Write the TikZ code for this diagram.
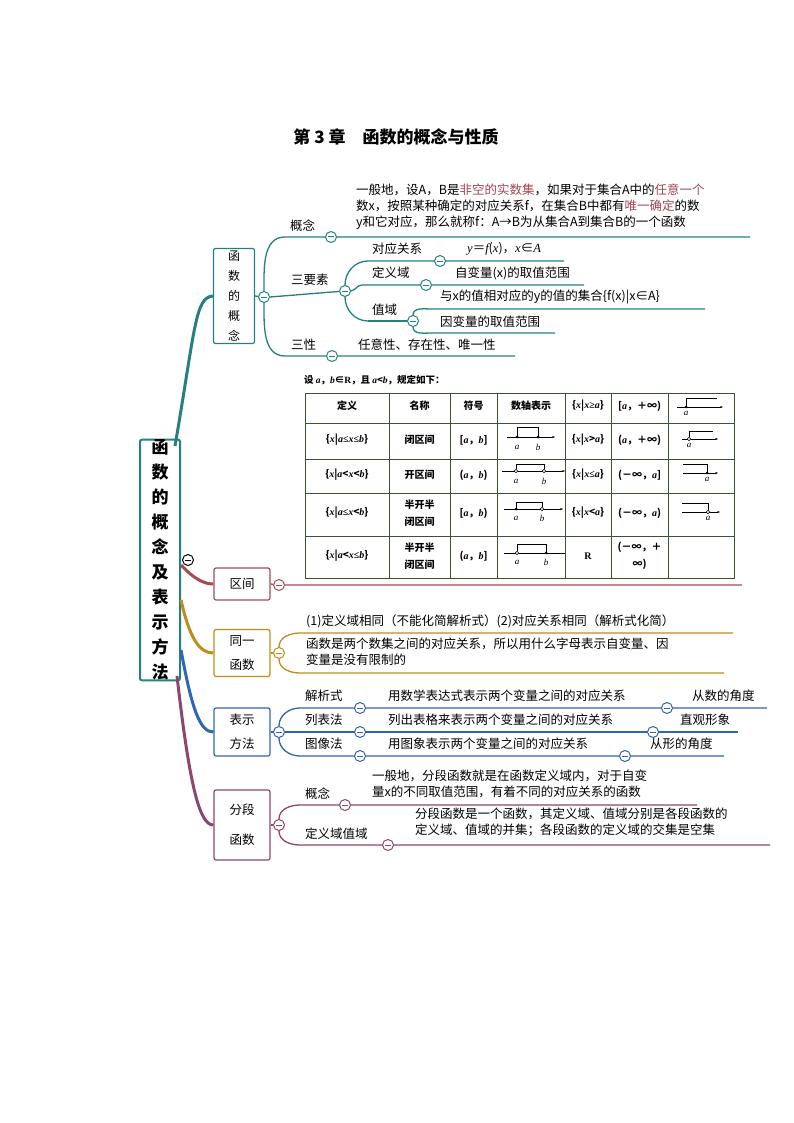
\documentclass[tikz,border=0pt]{standalone}
\usepackage{fontspec}
\setmainfont{Noto Sans CJK SC}
\newfontfamily\ser{Liberation Serif}
\usetikzlibrary{arrows.meta}
\definecolor{tl}{RGB}{38,128,128}
\definecolor{mr}{RGB}{165,75,85}
\definecolor{gd}{RGB}{190,140,30}
\definecolor{bl}{RGB}{50,100,180}
\definecolor{pu}{RGB}{140,70,110}
\definecolor{hl}{RGB}{160,70,80}
\definecolor{tg}{RGB}{60,80,50}
\newcommand{\iv}[1]{{\ser\itshape #1}}
\begin{document}
\begin{tikzpicture}[x=1pt,y=-1pt,
 mc/.style={circle,draw=#1,fill=white,line width=1pt,minimum size=11pt,inner sep=0pt,
   path picture={\draw[#1,line width=1pt] ([xshift=2.5pt]path picture bounding box.west) -- ([xshift=-2.5pt]path picture bounding box.east);}},
 br/.style={draw=#1,line width=1.3pt},
 bx/.style={draw=#1,line width=1.2pt,rounded corners=2pt,fill=white,align=center,inner sep=0pt},
 tx/.style={anchor=west,inner sep=0pt,font=\fontsize{12.5}{16}\selectfont},
 lt/.style={anchor=north west,inner sep=0pt,align=left,font=\fontsize{12.5}{16}\selectfont},
 tc/.style={inner sep=0pt,font=\bfseries\fontsize{10}{17}\selectfont,align=center},
 nl/.style={line width=0.6pt},
 dot/.style={circle,fill=black,inner sep=0pt,minimum size=3pt},
 odot/.style={circle,draw=black,fill=white,line width=0.5pt,inner sep=0pt,minimum size=3.5pt},
 al/.style={inner sep=0pt,font=\ser\itshape\fontsize{9}{9}\selectfont}]
\useasboundingbox (0,0) rectangle (794,1123);
\node[font=\bfseries\fontsize{17}{17}\selectfont] (title) at (396,137) {第 3 章\quad 函数的概念与性质};

% root
\node[bx=tl,line width=2pt,minimum width=40pt,minimum height=229pt,font=\bfseries\fontsize{17}{25}\selectfont] (root) at (160,560) {函\\数\\的\\概\\念\\及\\表\\示\\方\\法};
\node[mc=black] (rm) at (188,560) {};

% boxes
\node[bx=tl,minimum width=41pt,minimum height=95pt,font=\fontsize{12}{20}\selectfont] (b1) at (234,296) {函\\数\\的\\概\\念};
\node[bx=mr,minimum width=56pt,minimum height=32pt,font=\fontsize{12.5}{14}\selectfont] (b2) at (242,584) {区间};
\node[bx=gd,minimum width=56pt,minimum height=47pt,font=\fontsize{12.5}{24}\selectfont] (b3) at (242,653) {同一\\函数};
\node[bx=bl,minimum width=56pt,minimum height=48pt,font=\fontsize{12.5}{24}\selectfont] (b4) at (242,732) {表示\\方法};
\node[bx=pu,minimum width=56pt,minimum height=70pt,font=\fontsize{12.5}{30}\selectfont] (b5) at (242,825) {分段\\函数};

% root connectors
\draw[tl,line width=3pt] (175,446) .. controls (195,330) and (195,297) .. (b1.west);
\draw[mr,line width=3pt] (181,565) .. controls (195,580) and (205,584) .. (b2.west);
\draw[gd,line width=3pt] (181,600) .. controls (190,640) and (200,653) .. (b3.west);
\draw[bl,line width=3pt] (181,650) .. controls (192,710) and (200,732) .. (b4.west);
\draw[pu,line width=3pt] (177,676) .. controls (190,790) and (200,825) .. (b5.west);

% ---------- group 1
\node[mc=tl] (m1) at (264,297) {};
\coordinate (g1s) at (285,237); \coordinate (g1e) at (750,237);
\coordinate (g3s) at (285,356); \coordinate (g3e) at (515,356);
\draw[br=tl] (b1.east) -- (m1);
\draw[br=tl] (m1.north) to[out=90,in=180] (g1s) -- (g1e);
\draw[br=tl] (m1.south) to[out=-90,in=180] (g3s) -- (g3e);
\node[mc=tl] (c1) at (331,237) {};
\node[mc=tl] (c2) at (345,291) {};
\node[mc=tl] (c3) at (332,356) {};
\draw[br=tl] (m1.east) -- (c2);
\node[tx] (l1) at (290,226) {概念};
\node[tx] (l2) at (291,280) {三要素};
\node[tx] (l3) at (291,345) {三性};
\node[lt] (t1) at (356,184) {一般地，设A，B是\textcolor{hl}{非空的实数集}，如果对于集合A中的\textcolor{hl}{任意一个}\\数x，按照某种确定的对应关系f，在集合B中都有\textcolor{hl}{唯一确定}的数\\y和它对应，那么就称f：A→B为从集合A到集合B的一个函数};
\node[tx] (t3) at (358,345) {任意性、存在性、唯一性};
% sub
\coordinate (s1s) at (368,261); \coordinate (s1e) at (564,261);
\coordinate (s2s) at (362,285); \coordinate (s2e) at (584,285);
\coordinate (s3s) at (368,321);
\draw[br=tl] (c2.north) to[out=90,in=180] (s1s) -- (s1e);
\draw[br=tl] (c2.east) to[out=10,in=180] (s2s) -- (s2e);
\draw[br=tl] (c2.south) to[out=-90,in=180] (s3s);
\node[mc=tl] (d1) at (440,261) {};
\node[mc=tl] (d2) at (426,285) {};
\node[mc=tl] (d3) at (413,321) {};
\draw[br=tl] (s3s) -- (d3);
\node[tx] (k1) at (372,249) {对应关系};
\node[tx] (k2) at (372,273) {定义域};
\node[tx] (k3) at (372,310) {值域};
\node[tx] (u1) at (467,249) {\iv{y}＝\iv{f}(\iv{x})，\iv{x}∈\iv{A}};
\node[tx] (u2) at (455,273) {自变量(x)的取值范围};
\coordinate (v1s) at (432,309); \coordinate (v1e) at (705,309);
\coordinate (v2s) at (432,333); \coordinate (v2e) at (555,333);
\draw[br=tl] (d3.north) to[out=90,in=180] (v1s) -- (v1e);
\draw[br=tl] (d3.south) to[out=-90,in=180] (v2s) -- (v2e);
\node[tx] (w1) at (440,297) {与x的值相对应的y的值的集合\{f(x)|x∈A\}};
\node[tx] (w2) at (440,322) {因变量的取值范围};

% ---------- table
\node[anchor=west,inner sep=0pt,font=\bfseries\fontsize{9.5}{10}\selectfont] (cap) at (304,380) {设 \iv{a}，\iv{b}∈{\ser R}，且 \iv{a}<\iv{b}，规定如下：};
\draw[line width=1pt,draw=tg] (305,393) rectangle (734,578);
\foreach \y in {423,459,493,536} \draw[line width=0.7pt,draw=tg] (305,\y) -- (734,\y);
\foreach \x in {389,450,497,565,611,668} \draw[line width=0.7pt,draw=tg] (\x,393) -- (\x,578);
\node[tc] (h1) at (347,406) {定义};
\node[tc] (h2) at (419.5,406) {名称};
\node[tc] (h3) at (473.5,406) {符号};
\node[tc] (h4) at (531,406) {数轴表示};
\node[tc] (h5) at (588,406) {\{\iv{x}|\iv{x}{\ser≥}\iv{a}\}};
\node[tc] (h6) at (639.5,406) {[\iv{a}，＋∞)};
\node[tc] (a2) at (347,440) {\{\iv{x}|\iv{a}{\ser≤}\iv{x}{\ser≤}\iv{b}\}};
\node[tc] (a3) at (347,475) {\{\iv{x}|\iv{a}<\iv{x}<\iv{b}\}};
\node[tc] (a4) at (347,513) {\{\iv{x}|\iv{a}{\ser≤}\iv{x}<\iv{b}\}};
\node[tc] (a5) at (347,556) {\{\iv{x}|\iv{a}<\iv{x}{\ser≤}\iv{b}\}};
\node[tc] (n2) at (419.5,440) {闭区间};
\node[tc] (n3) at (419.5,475) {开区间};
\node[tc] (n4) at (419.5,513) {半开半\\闭区间};
\node[tc] (n5) at (419.5,556) {半开半\\闭区间};
\node[tc] (s2) at (473.5,440) {[\iv{a}，\iv{b}]};
\node[tc] (s3) at (473.5,475) {(\iv{a}，\iv{b})};
\node[tc] (s4) at (473.5,513) {[\iv{a}，\iv{b})};
\node[tc] (s5) at (473.5,556) {(\iv{a}，\iv{b}]};
\node[tc] (e2) at (588,440) {\{\iv{x}|\iv{x}>\iv{a}\}};
\node[tc] (e3) at (588,475) {\{\iv{x}|\iv{x}{\ser≤}\iv{a}\}};
\node[tc] (e4) at (588,513) {\{\iv{x}|\iv{x}<\iv{a}\}};
\node[tc,font=\ser\bfseries\fontsize{10}{10}\selectfont] (e5) at (588,556) {R};
\node[tc] (f2) at (639.5,440) {(\iv{a}，＋∞)};
\node[tc] (f3) at (639.5,475) {(－∞，\iv{a}]};
\node[tc] (f4) at (639.5,513) {(－∞，\iv{a})};
\node[tc] (f5) at (639.5,556) {(－∞，＋\\∞)};
% number lines col4
\draw[nl,-{Stealth[length=3pt]}] (507,437) -- (555,437);
\draw[nl] (517,437) |- (538,427) -- (538,437);
\node[dot] at (517,437) {}; \node[dot] at (538,437) {};
\node[al] at (517,447) {a}; \node[al] at (538,447) {b};
\draw[nl,-{Stealth[length=3pt]}] (502,471) -- (565,471);
\draw[nl] (516,469) |- (544,464) -- (544,469);
\node[odot] at (516,471) {}; \node[odot] at (544,471) {};
\node[al] at (516,481) {a}; \node[al] at (544,481) {b};
\draw[nl,-{Stealth[length=3pt]}] (504,509) -- (563,509);
\draw[nl] (516,509) |- (542,502) -- (542,507);
\node[dot] at (516,509) {}; \node[odot] at (542,509) {};
\node[al] at (516,518) {a}; \node[al] at (542,518) {b};
\draw[nl] (504,553) -- (565,553);
\draw[nl] (517,551) |- (546,544) -- (546,553);
\node[odot] at (517,553) {}; \node[dot] at (546,553) {};
\node[al] at (517,562) {a}; \node[al] at (546,562) {b};
% col7
\draw[nl,-{Stealth[length=3pt]}] (677,407) -- (723,407);
\draw[nl] (686,407) |- (717,398);
\node[dot] at (686,407) {}; \node[al] at (686,413) {a};
\draw[nl,-{Stealth[length=3pt]}] (682,439) -- (718,439);
\draw[nl] (689,437) |- (713,431);
\node[odot] at (689,439) {}; \node[al] at (689,445) {a};
\draw[nl,-{Stealth[length=3pt]}] (683,473) -- (718,473);
\draw[nl] (683,464) -| (707,473);
\node[dot] at (707,473) {}; \node[al] at (707,479) {a};
\draw[nl,-{Stealth[length=3pt]}] (682,512) -- (720,512);
\draw[nl] (682,503) -| (708,510);
\node[odot] at (708,512) {}; \node[al] at (708,518) {a};

% ---------- 区间
\node[mc=mr] (m2) at (279,585) {};
\coordinate (q1e) at (742,585);
\draw[br=mr] (b2.east) -- (m2) -- (q1e);

% ---------- 同一函数
\node[mc=gd] (m3) at (279,653) {};
\coordinate (p1s) at (300,633); \coordinate (p1e) at (733,633);
\coordinate (p2s) at (300,673); \coordinate (p2e) at (724,673);
\draw[br=gd] (b3.east) -- (m3);
\draw[br=gd] (m3.north) to[out=90,in=180] (p1s) -- (p1e);
\draw[br=gd] (m3.south) to[out=-90,in=180] (p2s) -- (p2e);
\node[tx] (p1t) at (306,621) {(1)定义域相同（不能化简解析式）(2)对应关系相同（解析式化简）};
\node[lt] (p2t) at (306,638) {函数是两个数集之间的对应关系，所以用什么字母表示自变量、因\\变量是没有限制的};

% ---------- 表示方法
\node[mc=bl] (m4) at (279,732) {};
\draw[br=bl] (b4.east) -- (m4);
\coordinate (r1s) at (300,708); \coordinate (r1e) at (767,708);
\coordinate (r3s) at (300,756); \coordinate (r3e) at (724,756);
\coordinate (r2e) at (738,732);
\draw[br=bl] (m4.north) to[out=90,in=180] (r1s) -- (r1e);
\draw[br=bl] (m4.east) -- (r2e);
\draw[br=bl] (m4.south) to[out=-90,in=180] (r3s) -- (r3e);
\node[mc=bl] (x1) at (360,708) {}; \node[mc=bl] (y1) at (667,708) {};
\node[mc=bl] (x2) at (360,732) {}; \node[mc=bl] (y2) at (653,732) {};
\node[mc=bl] (x3) at (360,756) {}; \node[mc=bl] (y3) at (625,756) {};
\node[tx] at (305,696) {解析式};
\node[tx] at (305,720) {列表法};
\node[tx] at (305,744) {图像法};
\node[tx] at (388,696) {用数学表达式表示两个变量之间的对应关系};
\node[tx] at (388,720) {列出表格来表示两个变量之间的对应关系};
\node[tx] at (388,744) {用图象表示两个变量之间的对应关系};
\node[tx] at (692,696) {从数的角度};
\node[tx] at (680,720) {直观形象};
\node[tx] at (650,744) {从形的角度};

% ---------- 分段函数
\node[mc=pu] (m5) at (279,825) {};
\draw[br=pu] (b5.east) -- (m5);
\coordinate (z1s) at (300,805); \coordinate (z1e) at (697,805);
\coordinate (z2s) at (300,845); \coordinate (z2e) at (770,845);
\draw[br=pu] (m5.north) to[out=90,in=180] (z1s) -- (z1e);
\draw[br=pu] (m5.south) to[out=-90,in=180] (z2s) -- (z2e);
\node[mc=pu] (o1) at (345,805) {};
\node[mc=pu] (o2) at (388,845) {};
\node[tx] at (305,794) {概念};
\node[tx] at (305,834) {定义域值域};
\node[lt] at (372,770) {一般地，分段函数就是在函数定义域内，对于自变\\量x的不同取值范围，有着不同的对应关系的函数};
\node[lt] at (415,808) {分段函数是一个函数，其定义域、值域分别是各段函数的\\定义域、值域的并集；各段函数的定义域的交集是空集};
\end{tikzpicture}
\end{document}
